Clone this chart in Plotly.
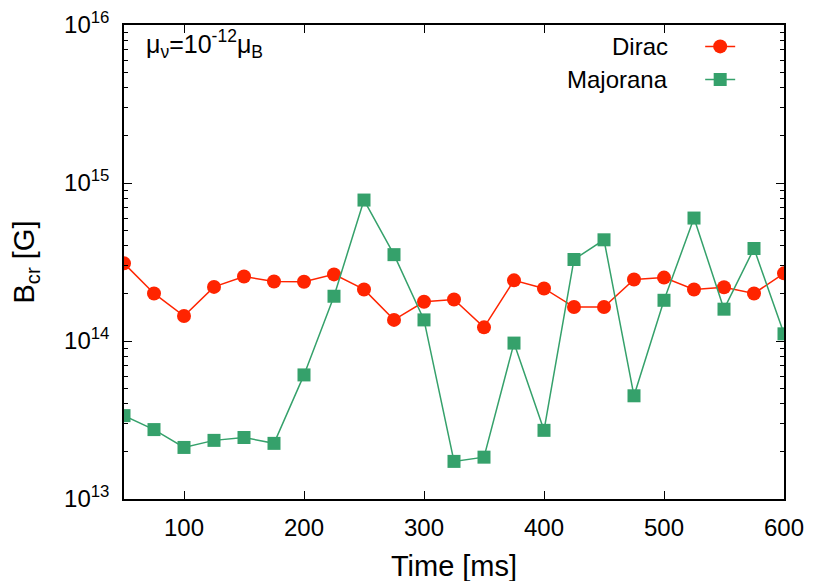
import plotly.graph_objects as go

time_ms = [50, 75, 100, 125, 150, 175, 200, 225, 250, 275, 300, 325,
           350, 375, 400, 425, 450, 475, 500, 525, 550, 575, 600]

dirac = [3.1e14, 2.0e14, 1.44e14, 2.2e14, 2.56e14, 2.38e14, 2.37e14, 2.64e14,
         2.12e14, 1.36e14, 1.77e14, 1.83e14, 1.22e14, 2.42e14, 2.15e14, 1.64e14,
         1.64e14, 2.45e14, 2.52e14, 2.12e14, 2.19e14, 2.0e14, 2.68e14]

majorana = [3.37e13, 2.75e13, 2.12e13, 2.35e13, 2.45e13, 2.25e13, 6.1e13, 1.92e14,
            7.8e14, 3.52e14, 1.36e14, 1.73e13, 1.84e13, 9.7e13, 2.72e13, 3.28e14,
            4.37e14, 4.5e13, 1.81e14, 6.0e14, 1.59e14, 3.85e14, 1.11e14]

series_names = ["Dirac", "Majorana"]

y_ticks = [1e13, 1e14, 1e15, 1e16]
y_ticktext = ["10<sup>13</sup>", "10<sup>14</sup>", "10<sup>15</sup>", "10<sup>16</sup>"]
x_ticks = [100, 200, 300, 400, 500, 600]

FONT = "Liberation Sans, Arial, sans-serif"
RED = "#ff2400"
GREEN = "#35a16b"


def main():
    fig = go.Figure()
    fig.add_trace(go.Scatter(
        x=time_ms, y=dirac, name=series_names[0], mode="lines+markers",
        legendgroup="d",
        line=dict(color=RED, width=1.5),
        marker=dict(symbol="circle", size=14, color=RED),
    ))
    fig.add_trace(go.Scatter(
        x=time_ms, y=majorana, name=series_names[1], mode="lines+markers",
        legendgroup="m",
        line=dict(color=GREEN, width=1.5),
        marker=dict(symbol="square", size=13, color=GREEN),
    ))

    minor_vals = [k * 10 ** e for e in range(13, 16) for k in range(2, 10)]

    # gnuplot style legend: labels on the left of the samples
    label_y = [0.954, 0.886]
    legend_labels = [
        dict(text=name, xref="paper", yref="paper", x=0.828, y=label_y[i],
             xanchor="right", yanchor="middle", showarrow=False,
             font=dict(family=FONT, size=24))
        for i, name in enumerate(series_names)
    ]

    fig.update_layout(
        width=830, height=581,
        margin=dict(l=116, r=54, t=17, b=90),
        paper_bgcolor="white", plot_bgcolor="white",
        font=dict(family=FONT, size=24, color="black"),
        showlegend=True,
        legend=dict(x=0.873, y=0.92, xanchor="left", yanchor="middle",
                    bgcolor="rgba(0,0,0,0)",
                    font=dict(size=10, color="rgba(0,0,0,0)"),
                    tracegroupgap=14),
        xaxis=dict(
            title=dict(text="Time [ms]", standoff=16),
            range=[50, 600], tickvals=x_ticks,
            ticks="inside", ticklen=8, tickwidth=1, tickcolor="black",
            ticklabelstandoff=6,
            showline=True, linecolor="black", linewidth=1.5, mirror="ticks",
            showgrid=False, zeroline=False,
        ),
        yaxis=dict(
            title=dict(text="B<sub>cr</sub> [G]", standoff=26),
            type="log", range=[13, 16], automargin=False,
            tickvals=y_ticks, ticktext=y_ticktext,
            ticks="inside", ticklen=8, tickwidth=1, tickcolor="black",
            ticklabelstandoff=8,
            showline=True, linecolor="black", linewidth=1.5, mirror="ticks",
            showgrid=False, zeroline=False,
            minor=dict(tickvals=minor_vals, ticks="inside", ticklen=4,
                       tickcolor="black", showgrid=False),
        ),
        annotations=[dict(
            text="μ<sub>ν</sub>=10<sup>-12</sup>μ<sub>B</sub>",
            xref="paper", yref="paper", x=0.03, y=1.003,
            xanchor="left", yanchor="top", showarrow=False,
            font=dict(family=FONT, size=25),
        )] + legend_labels,
    )

    fig.write_html("out.html")


if __name__ == "__main__":
    main()
